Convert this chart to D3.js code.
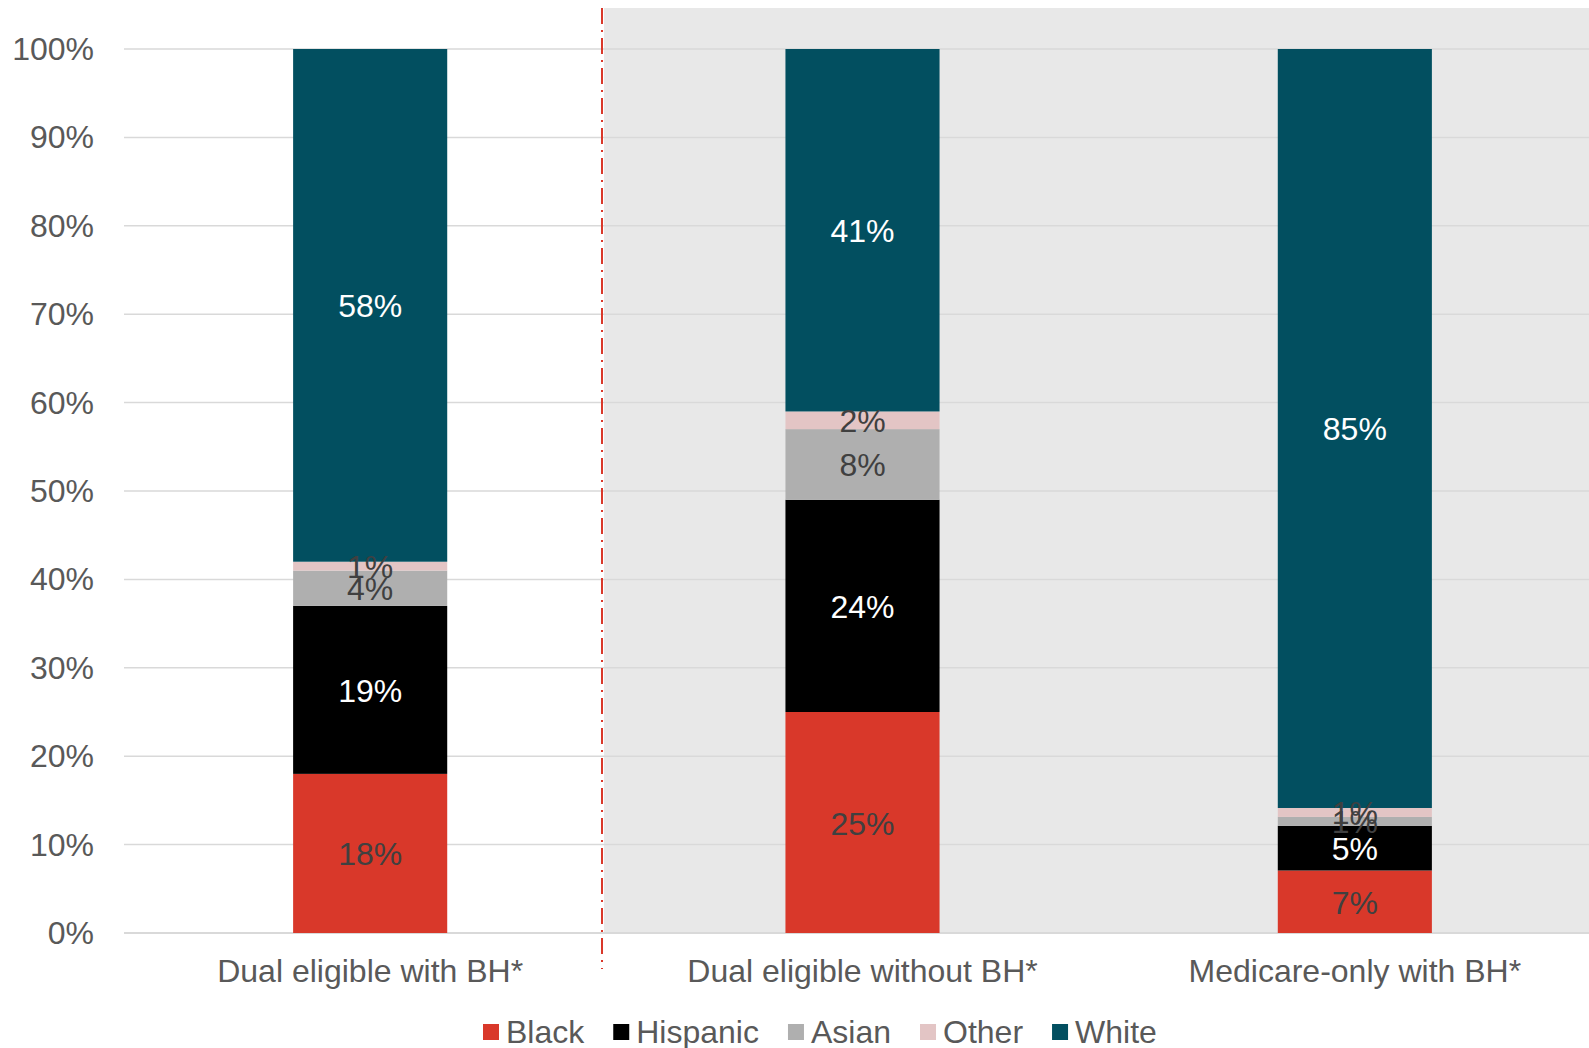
<!DOCTYPE html>
<html>
<head>
<meta charset="utf-8">
<script src="https://cdn.jsdelivr.net/npm/d3@7"></script>
<style>
  html, body { margin: 0; padding: 0; background: #ffffff; }
  svg { display: block; font-family: "Liberation Sans", Arial, sans-serif; }
</style>
</head>
<body>
<svg id="chart" width="1589" height="1048"></svg>
<script>
// ---- data ----
const categories = ["Dual eligible with BH*", "Dual eligible without BH*", "Medicare-only with BH*"];
const seriesNames = ["Black", "Hispanic", "Asian", "Other", "White"];
const black    = [18, 25, 7];
const hispanic = [19, 24, 5];
const asian    = [4, 8, 1];
const other    = [1, 2, 1];
const white    = [58, 41, 85];
const yTicks = [0, 0.1, 0.2, 0.3, 0.4, 0.5, 0.6, 0.7, 0.8, 0.9, 1.0];

const seriesColors = { Black: "#D9382A", Hispanic: "#000000", Asian: "#AFAFAF", Other: "#E3C5C5", White: "#024F60" };
const labelColors  = { Black: "#404040", Hispanic: "#ffffff", Asian: "#404040", Other: "#404040", White: "#ffffff" };

const seriesValues = { Black: black, Hispanic: hispanic, Asian: asian, Other: other, White: white };
const rows = categories.map((c, i) => {
  const r = { category: c };
  seriesNames.forEach(s => r[s] = seriesValues[s][i]);
  return r;
});

// ---- layout ----
const svg = d3.select("#chart");
const W = 1589;
const yTop = 49, yBottom = 933;
const plotLeft = 124, plotRight = 1601;

const x = d3.scaleBand().domain(categories).range([plotLeft, plotRight])
  .paddingInner(0.687).paddingOuter(0.3435);
const y = d3.scaleLinear().domain([0, 1]).range([yBottom, yTop]);

// shaded region + divider
svg.append("rect").attr("x", 604).attr("y", 8).attr("width", W - 604).attr("height", yBottom - 8)
  .attr("fill", "#E8E8E8");

// gridlines
svg.append("g").selectAll("line").data(yTicks).join("line")
  .attr("x1", plotLeft).attr("x2", W)
  .attr("y1", d => y(d)).attr("y2", d => y(d))
  .attr("stroke", "#D9D9D9").attr("stroke-width", d => d === 0 ? 2 : 1.5);

// y axis labels
svg.append("g").selectAll("text").data(yTicks).join("text")
  .attr("x", 94).attr("y", d => y(d))
  .attr("text-anchor", "end").attr("dominant-baseline", "central")
  .attr("font-size", 32).attr("fill", "#595959")
  .text(d => d3.format(".0%")(d));

// divider line
svg.append("line").attr("x1", 602).attr("x2", 602).attr("y1", 8).attr("y2", 969)
  .attr("stroke", "#D9382A").attr("stroke-width", 2)
  .attr("stroke-dasharray", "16 6 2 6");

// stacked bars
const stack = d3.stack().keys(seriesNames).offset(d3.stackOffsetExpand);
const stacked = stack(rows);

const groups = svg.append("g").selectAll("g").data(stacked).join("g")
  .attr("fill", d => seriesColors[d.key]);
groups.selectAll("rect").data(d => d.map(p => ({ key: d.key, p }))).join("rect")
  .attr("x", d => x(d.p.data.category))
  .attr("width", x.bandwidth())
  .attr("y", d => y(d.p[1]))
  .attr("height", d => y(d.p[0]) - y(d.p[1]));

// value labels
const lab = svg.append("g");
stacked.forEach(s => {
  s.forEach(p => {
    lab.append("text")
      .attr("x", x(p.data.category) + x.bandwidth() / 2)
      .attr("y", y((p[0] + p[1]) / 2) + 1)
      .attr("text-anchor", "middle").attr("dominant-baseline", "central")
      .attr("font-size", 32).attr("fill", labelColors[s.key])
      .text(p.data[s.key] + "%");
  });
});

// x axis labels
svg.append("g").selectAll("text").data(categories).join("text")
  .attr("x", d => x(d) + x.bandwidth() / 2).attr("y", 971)
  .attr("text-anchor", "middle").attr("dominant-baseline", "central")
  .attr("font-size", 32).attr("fill", "#595959")
  .text(d => d);

// legend
const legend = svg.append("g");
const items = seriesNames.map(name => {
  const g = legend.append("g");
  g.append("rect").attr("width", 16).attr("height", 16).attr("y", -8).attr("fill", seriesColors[name]);
  const t = g.append("text").attr("x", 23).attr("dominant-baseline", "central")
    .attr("font-size", 32).attr("fill", "#595959").text(name);
  return { g, w: 23 + t.node().getComputedTextLength() };
});
const gap = 29;
const total = d3.sum(items, d => d.w) + gap * (items.length - 1);
let lx = 483;
items.forEach(it => {
  it.g.attr("transform", `translate(${lx},1032)`);
  lx += it.w + gap;
});
</script>
</body>
</html>
